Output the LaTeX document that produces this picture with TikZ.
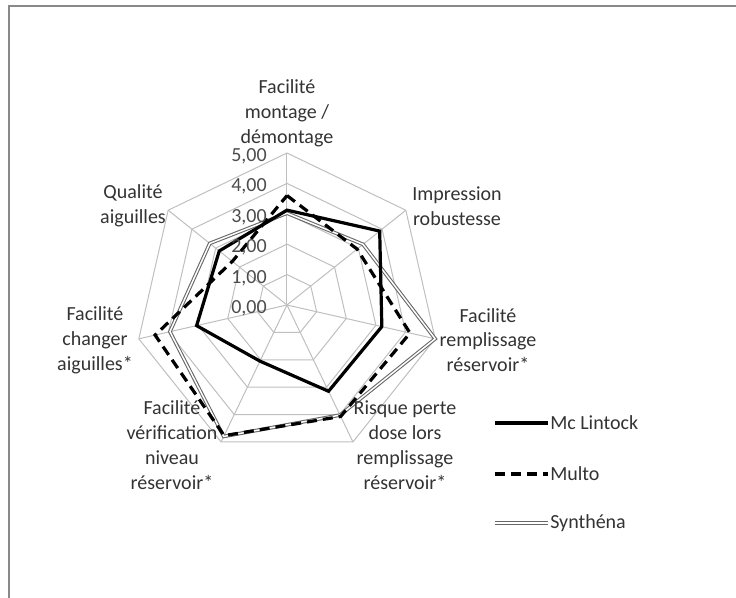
\documentclass[tikz,border=0pt]{standalone}
\usepackage{fontspec}
\setmainfont{Carlito}
\usepackage{tikz}
\usetikzlibrary{positioning}
\definecolor{gridgray}{HTML}{BFBFBF}
\definecolor{framegray}{HTML}{898989}

\begin{document}
\begin{tikzpicture}[
  x=0.75pt, y=0.75pt,
  lbl/.style={align=center,font=\fontsize{15}{18.6}\selectfont,inner sep=0pt,text=black!80},
  tick/.style={anchor=east,font=\fontsize{15}{18}\selectfont,inner sep=0pt,text=black!70},
  grid/.style={gridgray,line width=0.75pt},
  mclin/.style={black,line width=2.4pt,line join=miter},
  multo/.style={black,line width=2.4pt,dash pattern=on 7.5pt off 4.5pt},
  synth/.style={black!60,line width=0.8pt,double=white,double distance=1.1pt}
]
\useasboundingbox (-287,-293) rectangle (449,305);
\draw[framegray,line width=1.5pt] (449,299) -- (-278,299) -- (-278,-293);

% web
\begin{scope}[scale=30.4]
\foreach \r in {1,...,5}
  \draw[grid] (90:\r) \foreach \k in {1,...,6} { -- (90-\k*360/7:\r) } -- cycle;
\foreach \k in {0,...,6}
  \draw[grid] (0,0) -- (90-\k*360/7:5);

\draw[synth] (90:3.02) -- (38.571:3.2) -- (-12.857:5) -- (-64.286:4.02)
  -- (-115.714:4.8) -- (-167.143:3.95) -- (141.429:3.25) -- cycle;
\draw[multo] (90:3.6) -- (38.571:2.95) -- (-12.857:4.15) -- (-64.286:4.07)
  -- (-115.714:4.77) -- (-167.143:4.45) -- (141.429:2.3) -- cycle;
\draw[mclin] (90:3.12) -- (38.571:3.9) -- (-12.857:3.2) -- (-64.286:3.15)
  -- (-115.714:2.05) -- (-167.143:3.05) -- (141.429:2.85) -- cycle;
\end{scope}

\node[tick] (t0) at (-20,-3)  {0,00};
\node[tick] (t1) at (-20,27)  {1,00};
\node[tick] (t2) at (-20,58)  {2,00};
\node[tick] (t3) at (-20,88)  {3,00};
\node[tick] (t4) at (-20,119) {4,00};
\node[tick] (t5) at (-20,149) {5,00};

\node[lbl] (mont) at (0,192)     {Facilité\\montage /\\démontage};
\node[lbl] (robu) at (170,99)    {Impression\\robustesse};
\node[lbl] (remp) at (201,-35)   {Facilité\\remplissage\\réservoir*};
\node[lbl] (risq) at (118,-140)  {Risque perte\\dose lors\\remplissage\\réservoir*};
\node[lbl] (veri) at (-115,-140) {Facilité\\vérification\\niveau\\réservoir*};
\node[lbl] (chan) at (-192,-35)  {Facilité\\changer\\aiguilles*};
\node[lbl] (qual) at (-154,99)   {Qualité\\aiguilles};

% legend
\coordinate (l1a) at (208,-118);
\coordinate (l1b) at (261,-118);
\coordinate (l2a) at (208,-169);
\coordinate (l2b) at (261,-169);
\coordinate (l3a) at (208,-218);
\coordinate (l3b) at (261,-218);
\draw[mclin] (l1a) -- (l1b);
\draw[multo] (l2a) -- (l2b);
\draw[synth] (l3a) -- (l3b);
\node[lbl,anchor=west] (kmc) at (263,-118) {Mc Lintock};
\node[lbl,anchor=west] (kmu) at (263,-169) {Multo};
\node[lbl,anchor=west] (ksy) at (263,-218) {Synthéna};
\end{tikzpicture}
\end{document}
